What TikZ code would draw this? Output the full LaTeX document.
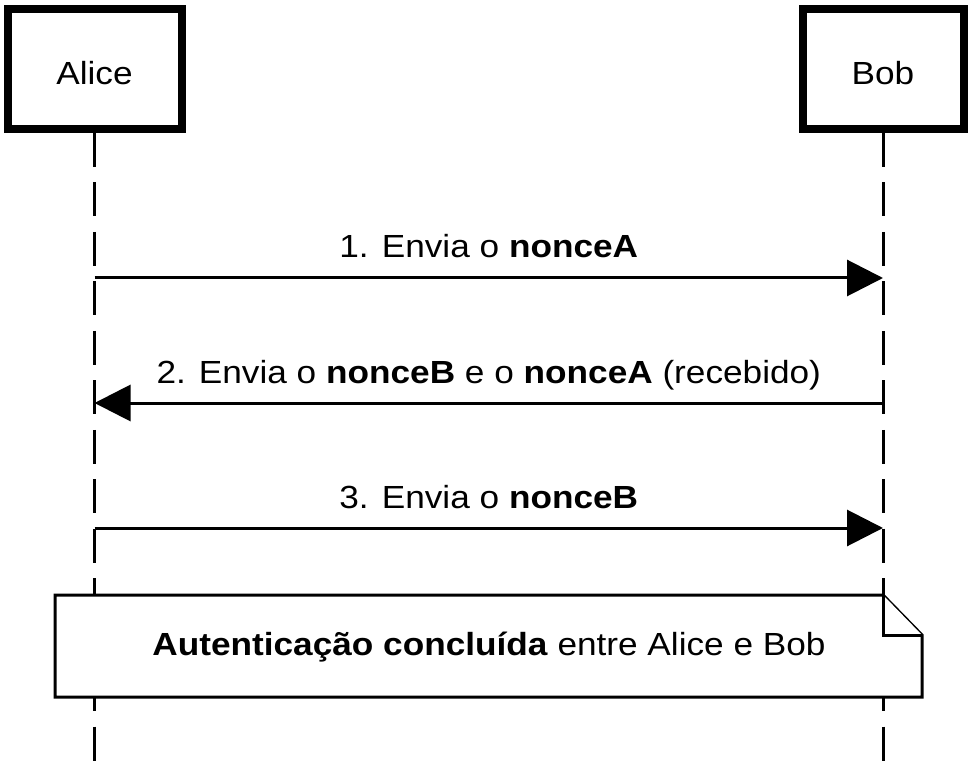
\documentclass[tikz,border=0pt]{standalone}
\usepackage{fontspec}
\setmainfont{Liberation Sans}[FakeStretch=1.1]
\usetikzlibrary{arrows.meta}

\begin{document}
\begin{tikzpicture}[x=0.75pt,y=-0.75pt,
    font=\fontsize{24}{29}\selectfont,
    actor/.style={draw,line width=6pt,minimum height=90pt,inner sep=0pt,
      text height=24pt,text depth=0pt},
    lifeline/.style={line width=2.25pt,dash pattern=on 25.5pt off 11.6pt},
    msg/.style={line width=2.25pt,-{Triangle[length=27pt,width=27pt]}},
    msglabel/.style={midway,anchor=base,yshift=15pt},
    notebox/.style={draw,fill=white,line width=2.25pt,line join=miter}]
    \useasboundingbox (0,0) rectangle (973,762);
    \node[actor,minimum width=130.5pt] (alice) at (94.5,69) {Alice};
    \node[actor,minimum width=120.75pt] (bob) at (883,69) {Bob};
    \draw[lifeline] (alice.south) -- (alice.south |- 0,762);
    \draw[lifeline] (bob.south) -- (bob.south |- 0,762);
    \coordinate (a1) at (alice.south |- 0,278);
    \coordinate (b1) at (bob.south |- 0,278);
    \coordinate (a2) at (alice.south |- 0,403);
    \coordinate (b2) at (bob.south |- 0,403);
    \coordinate (a3) at (alice.south |- 0,528);
    \coordinate (b3) at (bob.south |- 0,528);
    \draw[msg] (a1) -- node[msglabel] {1. Envia o \textbf{nonceA}} (b1);
    \draw[msg] (b2) -- node[msglabel] {2. Envia o \textbf{nonceB} e o \textbf{nonceA} (recebido)} (a2);
    \draw[msg] (a3) -- node[msglabel] {3. Envia o \textbf{nonceB}} (b3);
    \draw[notebox] (55,595) -- (883,595) -- (922,635) -- (922,697) -- (55,697) -- cycle;
    \draw[notebox] (883,595) -- (883,635) -- (922,635);
    \node[anchor=base] (note) at (489,655) {\textbf{Autenticação concluída} entre Alice e Bob};
\end{tikzpicture}
\end{document}
